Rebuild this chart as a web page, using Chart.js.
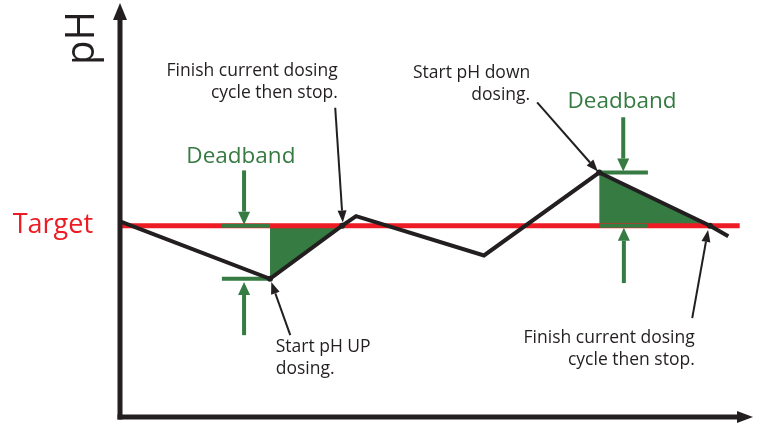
<!DOCTYPE html>
<html>
<head>
<meta charset="utf-8">
<script src="https://cdn.jsdelivr.net/npm/chart.js@4/dist/chart.umd.min.js"></script>
<style>
  html, body { margin: 0; padding: 0; background: #fff; }
  #wrap { width: 757px; height: 425px; }
</style>
</head>
<body>
<div id="wrap"><canvas id="chart"></canvas></div>
<script>
/* ── Data (time in arbitrary units 0-100, values in pH) ─────────── */
const timePts  = [0, 23.7, 35.1, 37.3, 57.5, 75.7, 93.2, 96.1];
const phPts    = [7.04, 6.5, 7.0, 7.09, 6.72, 7.5, 7.0, 6.9];
const dotAt    = [0, 1, 1, 0, 0, 1, 1, 0];

const targetPH   = 7.0;
const targetSpan = [0, 97.9];

/* deadband shaded regions */
const upBandT    = [23.7, 35.1];
const upBandPH   = [6.5, 7.0];
const downBandT  = [75.7, 93.2];
const downBandPH = [7.5, 7.0];

/* deadband limit ticks: [t0, t1, pH] */
const bandTicks = [
  [16.1, 23.7, 7.0], [16.1, 23.7, 6.5],
  [75.8, 83.4, 7.5], [75.8, 83.4, 7.0],
];

/* green deadband arrows: [t, fromPH, toPH] */
const bandArrows = [
  [19.6, 7.52, 7.01], [19.6, 5.97, 6.47],
  [79.5, 8.02, 7.51], [79.6, 6.46, 6.98],
];

/* annotation arrows: [fromT, fromPH, toT, toPH] */
const noteArrows = [
  [34.0, 8.11, 35.2, 7.03],
  [26.9, 5.97, 23.9, 6.47],
  [65.9, 8.16, 75.5, 7.51],
  [90.4, 6.13, 92.9, 6.96],
];

/* annotation texts: lines, anchor t, first baseline pH, align */
const noteLines = [
  ['Finish current dosing', 'cycle then stop.'],
  ['Start pH UP', 'dosing.'],
  ['Start pH down', 'dosing.'],
  ['Finish current dosing', 'cycle then stop.'],
];
const noteT     = [34.4, 24.6, 64.8, 90.8];
const notePH    = [8.41, 5.81, 8.39, 5.90];
const noteAlign = ['right', 'left', 'right', 'right'];

const bandLabelT  = [19.1, 79.3];
const bandLabelPH = [7.59, 8.11];

/* ── Colours ─────────────────────────────────────────────────────── */
const INK   = '#231f20';
const RED   = '#ed1c24';
const GREEN = '#357b42';
const FONT  = '"Open Sans", "DejaVu Sans", sans-serif';

const xy = (ts, ps) => ts.map((t, i) => ({ x: t, y: ps[i] }));

function arrow(ctx, x0, y0, x1, y1, len, half, width, color) {
  const a = Math.atan2(y1 - y0, x1 - x0);
  const bx = x1 - len * Math.cos(a), by = y1 - len * Math.sin(a);
  ctx.strokeStyle = color; ctx.fillStyle = color;
  ctx.lineWidth = width; ctx.lineCap = 'butt';
  ctx.beginPath(); ctx.moveTo(x0, y0); ctx.lineTo(bx, by); ctx.stroke();
  ctx.beginPath();
  ctx.moveTo(x1, y1);
  ctx.lineTo(bx + half * Math.sin(a), by - half * Math.cos(a));
  ctx.lineTo(bx - half * Math.sin(a), by + half * Math.cos(a));
  ctx.closePath(); ctx.fill();
}

/* axes with arrowheads + annotations */
const diagramPlugin = {
  id: 'diagram',
  afterDraw(chart) {
    const { ctx, chartArea: { left, right, bottom, top }, scales: { x, y } } = chart;
    ctx.save();

    // axes
    arrow(ctx, left, bottom + 2.5, left, top - 8, 17, 7, 5, INK);
    arrow(ctx, left - 2.5, bottom, right, bottom, 16, 6, 5, INK);

    // deadband arrows
    bandArrows.forEach(([t, p0, p1]) =>
      arrow(ctx, x.getPixelForValue(t), y.getPixelForValue(p0),
                 x.getPixelForValue(t), y.getPixelForValue(p1), 13, 6, 4, GREEN));

    // annotation arrows
    noteArrows.forEach(([t0, p0, t1, p1]) =>
      arrow(ctx, x.getPixelForValue(t0), y.getPixelForValue(p0),
                 x.getPixelForValue(t1), y.getPixelForValue(p1), 12, 4.5, 2, INK));

    // annotation text
    ctx.fillStyle = INK;
    ctx.font = `17.5px ${FONT}`;
    ctx.textBaseline = 'alphabetic';
    noteLines.forEach((lines, i) => {
      ctx.textAlign = noteAlign[i];
      const px = x.getPixelForValue(noteT[i]);
      const py = y.getPixelForValue(notePH[i]);
      lines.forEach((s, j) => ctx.fillText(s, px, py + j * 22));
    });

    // deadband labels
    ctx.fillStyle = GREEN;
    ctx.font = `22.5px ${FONT}`;
    ctx.textAlign = 'center';
    bandLabelT.forEach((t, i) =>
      ctx.fillText('Deadband', x.getPixelForValue(t), y.getPixelForValue(bandLabelPH[i])));

    ctx.restore();
  },
};

const datasets = [
  {
    label: 'pH',
    data: xy(timePts, phPts),
    showLine: true,
    borderColor: INK,
    borderWidth: 4,
    pointRadius: dotAt.map(d => d ? 3 : 0),
    pointBackgroundColor: INK,
    pointBorderWidth: 0,
    order: 0,
  },
  ...bandTicks.map(([t0, t1, p]) => ({
    data: xy([t0, t1], [p, p]),
    showLine: true,
    borderColor: GREEN,
    borderWidth: 4,
    pointRadius: 0,
    order: 1,
  })),
  {
    label: 'Target',
    data: xy(targetSpan, [targetPH, targetPH]),
    showLine: true,
    borderColor: RED,
    borderWidth: 5,
    pointRadius: 0,
    order: 2,
  },
  ...[[upBandT, upBandPH], [downBandT, downBandPH]].map(([ts, ps]) => ({
    data: xy(ts, ps),
    showLine: true,
    borderWidth: 0,
    borderColor: 'rgba(0,0,0,0)',
    backgroundColor: GREEN,
    pointRadius: 0,
    fill: { value: targetPH },
    order: 3,
  })),
];

new Chart(document.getElementById('chart'), {
  type: 'scatter',
  data: { datasets },
  options: {
    responsive: true,
    maintainAspectRatio: false,
    animation: false,
    layout: { padding: { left: 0, right: 4, top: 11, bottom: 8 } },
    plugins: { legend: { display: false }, tooltip: { enabled: false } },
    scales: {
      x: { type: 'linear', display: false, min: 0, max: 100 },
      y: {
        type: 'linear',
        min: 5.2,
        max: 9.02,
        grid:   { display: false, drawTicks: false },
        border: { display: false },
        afterBuildTicks: s => { s.ticks = [{ value: targetPH }]; },
        afterFit: s => { s.width = 120; s.paddingTop = 0; s.paddingBottom = 0; },
        ticks: {
          color: RED,
          padding: 27,
          font: { family: FONT, size: 27 },
          callback: () => 'Target',
        },
        title: {
          display: true,
          text: 'pH',
          align: 'end',
          color: INK,
          font: { family: FONT, size: 40, lineHeight: 1 },
          padding: { top: 63, bottom: 0 },
        },
      },
    },
  },
  plugins: [diagramPlugin],
});
</script>
</body>
</html>
